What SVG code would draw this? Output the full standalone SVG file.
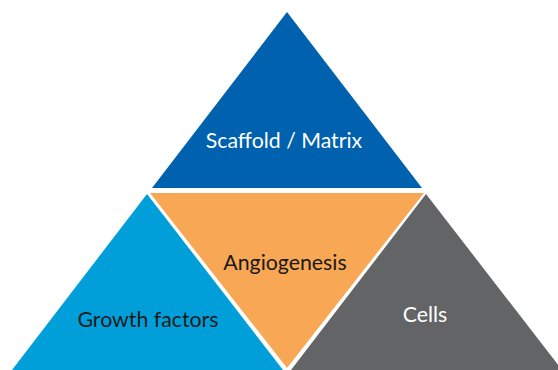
<svg xmlns="http://www.w3.org/2000/svg" width="558" height="370" viewBox="0 0 558 370">
<style>
text{font-family:Lato,"Open Sans","Liberation Sans",sans-serif;font-size:21.3px;text-anchor:middle}
.w{fill:#ffffff}.k{fill:#1a1a1a}
</style>
<rect width="558" height="370" fill="#ffffff"/>
<g id="scaffold">
<polygon points="287,12 422,188 152,188" fill="#0061AE"/>
<text class="w" x="284" y="148">Scaffold / Matrix</text>
</g>
<g id="growth">
<polygon points="147,194 283,370 12,370" fill="#009FDA"/>
<text class="k" x="148" y="327">Growth factors</text>
</g>
<g id="angio">
<polygon points="150,193 424,193 287,368" fill="#F8A755"/>
<text class="k" x="285" y="270">Angiogenesis</text>
</g>
<g id="cells">
<polygon points="426,194 562,370 291,370" fill="#636466"/>
<text class="w" x="425" y="322">Cells</text>
</g>
<g id="connectors"/>
</svg>
